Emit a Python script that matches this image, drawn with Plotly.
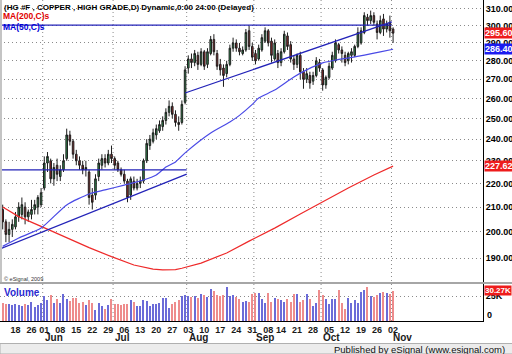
import numpy as np
import pandas as pd
import plotly.graph_objects as go

# ---------------- data ----------------
holidays = ["2009-05-25", "2009-09-07"]
dates = [d for d in pd.bdate_range("2009-05-12", "2009-11-02")
         if d.strftime("%Y-%m-%d") not in holidays]

opens = [209, 204, 199, 201, 202, 206, 207, 210, 206, 207, 209, 210, 211, 218, 229, 230, 222, 228, 223, 226,
         231, 242, 239, 233, 230, 228, 226, 225, 215, 215, 223, 228, 231, 229, 233, 231, 229, 226, 224, 221,
         215, 221, 218, 220, 221, 230, 237, 239, 242, 244, 246, 249, 253, 256, 252, 248, 248, 258, 276, 281,
         279, 283, 278, 285, 278, 284, 292, 284, 278, 276, 273, 278, 287, 290, 287, 284, 286, 297, 288, 284,
         281, 286, 291, 297, 291, 281, 284, 279, 285, 294, 289, 281, 278, 283, 274, 270, 272, 269, 272, 279,
         275, 267, 271, 276, 280, 289, 286, 283, 280, 283, 283, 288, 290, 296, 305, 303, 306, 301, 296, 304,
         298, 302, 298]
highs = [211, 205, 204, 205, 208, 212, 214, 212, 209, 213, 213, 215, 218, 232, 234, 231, 229, 231, 228, 233,
         245, 244, 240, 235, 232, 230, 230, 226, 218, 224, 231, 233, 233, 235, 237, 232, 230, 227, 226, 222,
         223, 223, 222, 223, 231, 240, 242, 245, 247, 249, 251, 255, 259, 258, 254, 251, 259, 277, 283, 284,
         286, 285, 287, 286, 287, 294, 295, 286, 281, 278, 280, 289, 293, 292, 290, 288, 298, 300, 290, 286,
         289, 295, 299, 298, 293, 292, 286, 287, 297, 296, 291, 283, 284, 285, 276, 276, 274, 274, 282, 281,
         276, 272, 279, 285, 292, 290, 288, 285, 285, 287, 289, 299, 299, 308, 307, 309, 308, 303, 306, 307,
         303, 306, 299]
lows = [201, 196, 196, 198, 201, 204, 205, 203, 204, 205, 207, 207, 210, 217, 225, 220, 219, 221, 221, 225,
        230, 237, 231, 228, 226, 224, 223, 211, 209, 213, 221, 226, 227, 228, 229, 226, 225, 223, 220, 212,
        213, 217, 217, 218, 220, 229, 235, 238, 240, 243, 244, 247, 251, 250, 246, 244, 247, 257, 273, 276,
        277, 275, 277, 275, 276, 283, 283, 275, 272, 266, 271, 277, 285, 285, 283, 283, 285, 286, 280, 278,
        280, 285, 290, 288, 279, 280, 276, 277, 284, 286, 279, 275, 276, 270, 265, 268, 265, 267, 271, 274,
        264, 265, 270, 275, 279, 284, 279, 277, 278, 279, 282, 287, 289, 295, 300, 301, 300, 292, 295, 294,
        296, 293, 290]
closes = [204, 199, 201, 203, 206, 210, 211, 206, 208, 209, 211, 214, 216, 229, 232, 222, 227, 224, 226, 230,
          242, 239, 233, 230, 228, 226, 227, 214, 212, 222, 229, 231, 229, 233, 231, 228, 226, 224, 221, 214,
          222, 218, 220, 221, 230, 238, 240, 243, 245, 247, 249, 253, 256, 252, 248, 247, 257, 275, 281, 279,
          284, 278, 285, 277, 285, 292, 285, 277, 275, 272, 278, 287, 290, 287, 285, 286, 296, 288, 282, 280,
          287, 293, 297, 290, 283, 290, 279, 285, 295, 288, 281, 278, 283, 274, 270, 273, 268, 272, 280, 276,
          267, 271, 277, 283, 290, 286, 284, 279, 284, 285, 288, 296, 297, 306, 303, 306, 302, 296, 303, 298,
          301, 297, 295.6]
volumes_k = [18, 17, 17, 16, 17, 16, 15, 17, 16, 19, 14, 16, 18, 25, 21, 26, 18, 22, 18, 27,
             22, 20, 23, 23, 18, 19, 16, 21, 18, 11, 18, 15, 12, 16, 22, 17, 17, 16, 17, 17,
             21, 19, 15, 15, 21, 20, 15, 17, 17, 18, 23, 23, 13, 17, 19, 21, 25, 26, 25, 24,
             25, 23, 27, 26, 24, 32, 30, 26, 25, 26, 34, 25, 26, 24, 22, 19, 20, 19, 27, 28,
             28, 22, 18, 28, 19, 23, 22, 21, 19, 22, 19, 27, 27, 19, 21, 27, 22, 15, 18, 31,
             26, 22, 17, 22, 22, 31, 18, 12, 23, 18, 21, 18, 29, 31, 34, 25, 24, 26, 28, 29,
             28, 27, 30.27]

ma50_idx = [0, 5, 12, 20, 27, 32, 38, 44, 48, 51, 54, 57, 65, 71, 74, 78, 80, 85, 91, 95, 100, 104, 110, 118, 122]
ma50_val = [194.4, 197.6, 201.5, 210.9, 215.5, 217.2, 219.3, 221.5, 223.7, 227.2, 229.5, 233.6, 242.9, 248.2,
            251.5, 257.0, 260.2, 264.3, 271.2, 275.0, 278.8, 280.4, 282.1, 284.9, 286.4]
ma200_idx = [0, 5, 12, 18, 23, 27, 34, 41, 47, 50, 54, 56, 62, 70, 77, 85, 93, 101, 108, 116, 122]
ma200_val = [210.0, 206.1, 202.2, 198.8, 196.1, 193.9, 190.5, 187.4, 185.9, 185.6, 185.7, 186.2, 188.1,
             191.9, 196.4, 201.5, 207.2, 213.0, 218.0, 223.7, 227.62]

# hand-drawn study lines (bar position, price)
trend_a_pos, trend_a_val = [-0.84, 57.5], [193.4, 224.1]
trend_b_pos, trend_b_val = [57, 121.6], [262.8, 302.2]
hline_hi_pos, hline_hi_val = [-0.84, 121.5], [300.3, 300.3]
hline_lo_pos, hline_lo_val = [-0.84, 57.5], [225.9, 225.9]

price_ticks = [190, 200, 210, 220, 230, 240, 250, 260, 270, 280, 290, 300, 310]

# ---------------- figure ----------------
x = list(range(len(dates)))
H = 321.0  # plot-area height in px


def py(p):
    return (H - p) / H


up = [c >= o for o, c in zip(opens, closes)]
vol_colors = ["#6b6bd8" if u else "#ee8c8c" for u in up]

fig = go.Figure()
fig.add_trace(go.Candlestick(
    x=x, open=opens, high=highs, low=lows, close=closes, xaxis="x", yaxis="y",
    increasing=dict(line=dict(color="#1e1e1e", width=1), fillcolor="#2f8f4f"),
    decreasing=dict(line=dict(color="#1e1e1e", width=1), fillcolor="#952a2a"),
    whiskerwidth=0, showlegend=False, hoverinfo="skip"))

fig.add_trace(go.Scatter(x=ma200_idx, y=ma200_val, mode="lines", yaxis="y",
                         line=dict(color="#ee2a2a", width=1.2), showlegend=False))
fig.add_trace(go.Scatter(x=ma50_idx, y=ma50_val, mode="lines", yaxis="y",
                         line=dict(color="#4a4ae6", width=1.2, shape="spline", smoothing=0.6),
                         showlegend=False))
for px_, pv_ in [(trend_a_pos, trend_a_val), (trend_b_pos, trend_b_val),
                 (hline_hi_pos, hline_hi_val), (hline_lo_pos, hline_lo_val)]:
    fig.add_trace(go.Scatter(x=px_, y=pv_, mode="lines", yaxis="y",
                             line=dict(color="#2323b8", width=1.3), showlegend=False))

fig.add_trace(go.Bar(x=x, y=volumes_k, yaxis="y2", marker=dict(color=vol_colors, line=dict(width=0)),
                     width=0.42, showlegend=False))

# ticks on x
week_idx, week_txt = [], []
prev_week = None
for i, d in enumerate(dates):
    wk = d.isocalendar()[1]
    if wk != prev_week and d >= pd.Timestamp("2009-05-18"):
        week_idx.append(i)
        week_txt.append(f"{d.day:02d}")
    prev_week = wk

month_idx, month_txt = [], []
for i, d in enumerate(dates):
    if i > 0 and d.month != dates[i - 1].month:
        month_idx.append(i)
        month_txt.append(d.strftime("%b"))

shapes = []
for m in month_idx:
    shapes.append(dict(type="line", xref="x", yref="paper", x0=m - 0.5, x1=m - 0.5, y0=0, y1=1,
                       line=dict(color="#8a8a8a", width=1, dash="1px,3px"), layer="below"))
# pane separator, left border, bottom bar
shapes.append(dict(type="rect", xref="paper", yref="paper", x0=0, x1=1.07, y0=py(284), y1=py(282),
                   fillcolor="#a6a6a6", line=dict(width=0)))
shapes.append(dict(type="rect", xref="paper", yref="paper", x0=0, x1=2 / 483, y0=py(282), y1=1,
                   fillcolor="#c4c4c4", line=dict(width=0)))
shapes.append(dict(type="rect", xref="paper", yref="paper", x0=0, x1=1.07, y0=py(354), y1=py(343.5),
                   fillcolor="#ececec", line=dict(color="#b0b0b0", width=1)))

F = "Arial"
ann = []
ann.append(dict(text="(HG #F , COPPER , HIGH GRADE,D) Dynamic,0:00 24:00 (Delayed)", x=0, xshift=2,
                xref="paper", y=py(7), yref="paper", xanchor="left", yanchor="middle", showarrow=False,
                font=dict(family=F, size=8, color="#000000", weight="bold")))
ann.append(dict(text="MA(200,C)s", x=0, xshift=1, xref="paper", y=py(16.5), yref="paper", xanchor="left",
                yanchor="middle", showarrow=False, font=dict(family=F, size=8.5, color="#e00000", weight="bold")))
ann.append(dict(text="MA(50,C)s", x=0, xshift=1, xref="paper", y=py(27), yref="paper", xanchor="left",
                yanchor="middle", showarrow=False, font=dict(family=F, size=8.5, color="#0000d8", weight="bold")))
ann.append(dict(text="© eSignal, 2009", x=0, xshift=2, xref="paper", y=py(279), yref="paper", xanchor="left",
                yanchor="middle", showarrow=False, font=dict(family=F, size=5.5, color="#333333")))
ann.append(dict(text="Volume", x=0, xshift=2, xref="paper", y=py(292), yref="paper", xanchor="left",
                yanchor="middle", showarrow=False, font=dict(family=F, size=10, color="#2a2ad0", weight="bold")))
for m, t in zip(month_idx, month_txt):
    ann.append(dict(text=t, x=m - 0.5, xref="x", y=py(338), yref="paper", xanchor="left", yanchor="middle",
                    showarrow=False, font=dict(family=F, size=10, color="#1a1a1a", weight="bold")))
ann.append(dict(text="Published by eSignal (www.esignal.com)", x=507 / 483, xref="paper", y=py(349),
                yref="paper", xanchor="right", yanchor="middle", showarrow=False,
                font=dict(family=F, size=9.5, color="#111111")))
ann.append(dict(text="0", x=1, xshift=2, xref="paper", y=6, yref="y2", xanchor="left", yanchor="middle",
                showarrow=False, font=dict(family=F, size=9, color="#000000", weight="bold")))


def tag(text, y, yref, bg, size=9):
    return dict(text=text, x=1, xref="paper", xshift=0.5, y=y, yref=yref, xanchor="left", yanchor="middle",
                showarrow=False, bgcolor=bg, borderpad=0, font=dict(family=F, size=size, color="#ffffff",
                                                                     weight="bold"))


ann.append(tag(f"{closes[-1]:.2f}", np.log10(closes[-1]), "y", "#ee1c1c"))
ann.append(tag(f"{ma50_val[-1]:.2f}", np.log10(ma50_val[-1]), "y", "#1c1cf0"))
ann.append(tag(f"{ma200_val[-1]:.2f}", np.log10(ma200_val[-1]), "y", "#ee1c1c"))
ann.append(tag(f"{volumes_k[-1]:.2f}K", volumes_k[-1], "y2", "#ee1c1c", size=8))

ylog0 = np.log10(190) - (282 - 258) / 1171.3
ylog1 = np.log10(190) + 258 / 1171.3

fig.update_layout(
    width=512, height=354, margin=dict(l=0, r=29, t=0, b=33),
    paper_bgcolor="#ffffff", plot_bgcolor="#ffffff",
    font=dict(family=F), shapes=shapes, annotations=ann, bargap=0,
    xaxis=dict(range=[-0.84, 150.1], anchor="y2", tickmode="array", tickvals=week_idx, ticktext=week_txt,
               tickangle=0, tickfont=dict(family=F, size=9, color="#1a1a1a", weight="bold"), showgrid=False,
               zeroline=False, showline=True, linecolor="#000000", linewidth=1, ticks="", ticklen=0,
               rangeslider=dict(visible=False), fixedrange=True),
    yaxis=dict(domain=[py(282), 1], type="log", range=[ylog0, ylog1], side="right", tickmode="array",
               tickvals=price_ticks, ticktext=[f"{v:.2f}" for v in price_ticks],
               tickfont=dict(family=F, size=9, color="#000000", weight="bold"),
               showgrid=True, gridcolor="#8a8a8a", gridwidth=1, griddash="1px,3px",
               showline=True, linecolor="#000000", linewidth=1, zeroline=False, ticks=""),
    yaxis2=dict(domain=[0, py(284)], range=[0, 37], side="right", tickmode="array", tickvals=[25],
                ticktext=["25K"], tickfont=dict(family=F, size=9, color="#000000", weight="bold"),
                showgrid=True, gridcolor="#8a8a8a", gridwidth=1, griddash="1px,3px",
                showline=True, linecolor="#000000", linewidth=1, zeroline=False, ticks=""),
)

fig.write_html("out.html")
